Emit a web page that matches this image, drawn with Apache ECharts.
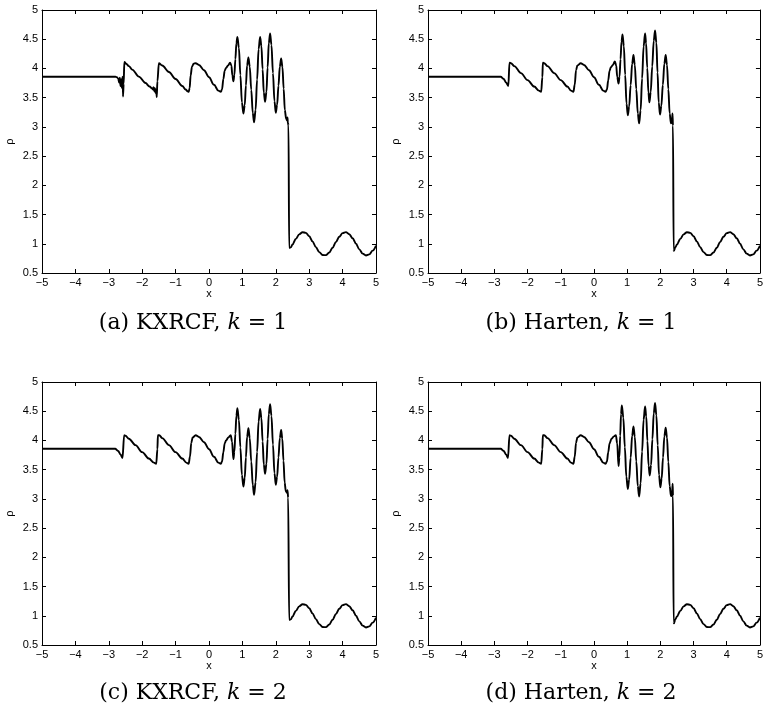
<!DOCTYPE html>
<html>
  <head>
    <meta charset="utf-8" />
    <title>Shu-Osher density</title>
    <style>
      html, body { margin: 0; padding: 0; background: #fff; }
    </style>
  </head>
  <body>
    <script src="https://cdn.jsdelivr.net/npm/echarts@6/dist/echarts.min.js"></script>

    <div id="container" style="width: 766px;height: 717px;"></div>

    <script type="text/javascript">
    // tick labels
    var xTicks = [-5, -4, -3, -2, -1, 0, 1, 2, 3, 4, 5];
    var yTicks = [0.5, 1, 1.5, 2, 2.5, 3, 3.5, 4, 4.5, 5];

    // panel captions
    var captions = [
      ['(a) KXRCF, ', '1'],
      ['(b) Harten, ', '1'],
      ['(c) KXRCF, ', '2'],
      ['(d) Harten, ', '2']
    ];

    // entropy wave behind the shock, same in all four panels
    var tailX = [2.45, 2.5, 2.6, 2.7, 2.8, 2.9, 3.0, 3.1, 3.2, 3.3, 3.4, 3.5, 3.6, 3.7, 3.8, 3.9,
      4.0, 4.1, 4.2, 4.3, 4.4, 4.5, 4.6, 4.7, 4.8, 4.9, 5.0];
    var tailRho = [0.938, 0.987, 1.084, 1.161, 1.198, 1.187, 1.130, 1.041, 0.942, 0.858, 0.808,
      0.805, 0.850, 0.931, 1.030, 1.120, 1.183, 1.199, 1.164, 1.094, 1.003, 0.905, 0.831, 0.800,
      0.819, 0.882, 0.968];

    // (a) KXRCF, k = 1
    var xA = [-5, -2.8, -2.76, -2.72, -2.69, -2.67, -2.65, -2.63, -2.61, -2.6, -2.585, -2.575, -2.555, -2.535,
      -2.48, -2.4, -2.3, -2.1, -1.9, -1.78, -1.71, -1.68, -1.66, -1.64, -1.62, -1.6, -1.58, -1.565, -1.545,
      -1.5, -1.4, -1.2, -1.0, -0.8, -0.7, -0.64, -0.61, -0.58, -0.55, -0.51, -0.46, -0.4, -0.3, -0.15,
      0, 0.15, 0.28, 0.355, 0.39, 0.43, 0.47, 0.51, 0.57, 0.63, 0.67, 0.7, 0.73,
      0.76, 0.79, 0.82, 0.85, 0.895, 0.94, 0.985, 1.03, 1.07, 1.105, 1.14, 1.18, 1.22, 1.265, 1.31, 1.35,
      1.395, 1.44, 1.485, 1.53, 1.57, 1.605, 1.64, 1.68, 1.72, 1.755, 1.79, 1.83, 1.87, 1.915, 1.96, 2.0,
      2.04, 2.08, 2.12, 2.16, 2.2, 2.235, 2.27, 2.31, 2.34, 2.35, 2.36, 2.38, 2.40, 2.41];
    var rhoA = [3.857, 3.857, 3.85, 3.83, 3.76, 3.84, 3.70, 3.81, 3.67, 3.80, 3.86, 3.52, 3.74, 4.11,
      4.08, 4.04, 3.98, 3.86, 3.75, 3.69, 3.66, 3.64, 3.68, 3.61, 3.66, 3.58, 3.64, 3.51, 3.78,
      4.09, 4.05, 3.94, 3.82, 3.70, 3.64, 3.61, 3.60, 3.66, 3.88, 4.03, 4.08, 4.09, 4.06, 3.97,
      3.85, 3.72, 3.62, 3.60, 3.64, 3.82, 3.96, 4.01, 4.05, 4.10, 4.05, 3.88, 3.78,
      3.89, 4.16, 4.43, 4.54, 4.35, 3.885, 3.42, 3.23, 3.37, 3.71, 4.05, 4.19, 4.03, 3.635, 3.24, 3.08,
      3.29, 3.81, 4.33, 4.54, 4.38, 3.985, 3.59, 3.43, 3.60, 4.015, 4.43, 4.60, 4.40, 3.92, 3.44, 3.24,
      3.38, 3.705, 4.03, 4.17, 4.02, 3.655, 3.29, 3.14, 3.11, 3.16, 3.07, 3.03, 0.93, 0.92];

    // (b) Harten, k = 1
    var xB = [-5, -2.81, -2.72, -2.65, -2.58, -2.545, -2.5, -2.4, -2.2, -2.0, -1.8, -1.66, -1.59, -1.555, -1.54,
      -1.5, -1.4, -1.2, -1.0, -0.8, -0.69, -0.62, -0.58, -0.54, -0.5, -0.4, -0.3, -0.15,
      0, 0.15, 0.28, 0.35, 0.39, 0.43, 0.47, 0.51, 0.57, 0.63, 0.67, 0.7, 0.74,
      0.77, 0.80, 0.83, 0.86, 0.90, 0.94, 0.98, 1.02, 1.06, 1.105, 1.15, 1.19, 1.23, 1.275, 1.32, 1.36,
      1.405, 1.45, 1.495, 1.54, 1.57, 1.605, 1.64, 1.67, 1.71, 1.755, 1.80, 1.84, 1.88, 1.915, 1.95, 1.99,
      2.03, 2.075, 2.12, 2.16, 2.2, 2.24, 2.28, 2.32, 2.35, 2.365, 2.38, 2.40, 2.41];
    var rhoB = [3.857, 3.857, 3.82, 3.76, 3.70, 4.10, 4.09, 4.04, 3.92, 3.80, 3.69, 3.62, 3.60, 3.85, 4.10,
      4.09, 4.04, 3.92, 3.80, 3.69, 3.62, 3.60, 3.72, 3.97, 4.05, 4.09, 4.06, 3.97,
      3.85, 3.72, 3.62, 3.60, 3.64, 3.80, 3.96, 4.02, 4.06, 4.12, 4.05, 3.86, 3.74,
      3.86, 4.16, 4.46, 4.58, 4.38, 3.89, 3.40, 3.20, 3.35, 3.715, 4.08, 4.23, 4.06, 3.645, 3.23, 3.06,
      3.285, 3.83, 4.375, 4.60, 4.43, 4.01, 3.59, 3.42, 3.60, 4.035, 4.47, 4.65, 4.44, 3.93, 3.42, 3.21,
      3.36, 3.72, 4.08, 4.23, 4.06, 3.645, 3.23, 3.06, 3.08, 3.23, 3.02, 0.90, 0.88];

    // (c) KXRCF, k = 2
    var xC = [-5, -2.81, -2.72, -2.65, -2.59, -2.54, -2.5, -2.4, -2.2, -2.0, -1.8, -1.65, -1.58, -1.545, -1.53,
      -1.49, -1.4, -1.2, -1.0, -0.8, -0.68, -0.61, -0.57, -0.53, -0.49, -0.4, -0.3, -0.15,
      0, 0.15, 0.28, 0.355, 0.39, 0.43, 0.47, 0.51, 0.58, 0.65, 0.69, 0.73,
      0.76, 0.79, 0.82, 0.85, 0.895, 0.94, 0.985, 1.03, 1.07, 1.105, 1.14, 1.18, 1.22, 1.265, 1.31, 1.35,
      1.395, 1.44, 1.485, 1.53, 1.57, 1.605, 1.64, 1.68, 1.72, 1.755, 1.79, 1.83, 1.87, 1.915, 1.96, 2.0,
      2.04, 2.08, 2.12, 2.16, 2.195, 2.23, 2.265, 2.30, 2.34, 2.35, 2.37, 2.40, 2.41];
    var rhoC = [3.857, 3.857, 3.82, 3.76, 3.70, 4.09, 4.08, 4.03, 3.92, 3.80, 3.69, 3.62, 3.60, 3.85, 4.09,
      4.09, 4.04, 3.92, 3.80, 3.69, 3.62, 3.60, 3.72, 3.96, 4.05, 4.09, 4.06, 3.97,
      3.85, 3.72, 3.62, 3.60, 3.64, 3.80, 3.95, 4.00, 4.05, 4.09, 3.98, 3.68,
      3.81, 4.115, 4.42, 4.55, 4.35, 3.88, 3.41, 3.21, 3.36, 3.71, 4.06, 4.21, 4.04, 3.64, 3.24, 3.07,
      3.285, 3.805, 4.325, 4.54, 4.38, 3.985, 3.59, 3.43, 3.60, 4.025, 4.45, 4.62, 4.42, 3.93, 3.44, 3.24,
      3.38, 3.71, 4.04, 4.18, 4.03, 3.655, 3.28, 3.13, 3.10, 3.15, 3.02, 0.93, 0.92];

    // (d) Harten, k = 2
    var xD = [-5, -2.81, -2.72, -2.65, -2.59, -2.545, -2.5, -2.4, -2.2, -2.0, -1.8, -1.66, -1.59, -1.555, -1.54,
      -1.5, -1.4, -1.2, -1.0, -0.8, -0.69, -0.62, -0.58, -0.54, -0.5, -0.4, -0.3, -0.15,
      0, 0.15, 0.28, 0.35, 0.39, 0.43, 0.47, 0.53, 0.6, 0.66, 0.7, 0.74,
      0.765, 0.79, 0.815, 0.84, 0.885, 0.93, 0.975, 1.02, 1.06, 1.105, 1.15, 1.19, 1.23, 1.275, 1.32, 1.36,
      1.405, 1.45, 1.495, 1.54, 1.575, 1.61, 1.645, 1.68, 1.72, 1.76, 1.80, 1.84, 1.88, 1.92, 1.96, 2.0,
      2.04, 2.08, 2.12, 2.16, 2.2, 2.24, 2.28, 2.32, 2.35, 2.37, 2.38, 2.40, 2.41];
    var rhoD = [3.857, 3.857, 3.82, 3.76, 3.70, 4.09, 4.08, 4.03, 3.92, 3.80, 3.69, 3.62, 3.60, 3.85, 4.09,
      4.09, 4.04, 3.92, 3.80, 3.69, 3.62, 3.60, 3.72, 3.96, 4.05, 4.09, 4.06, 3.97,
      3.85, 3.72, 3.62, 3.60, 3.64, 3.80, 3.95, 4.03, 4.07, 4.09, 3.95, 3.56,
      3.71, 4.08, 4.45, 4.60, 4.39, 3.885, 3.38, 3.17, 3.33, 3.705, 4.08, 4.24, 4.06, 3.64, 3.22, 3.04,
      3.265, 3.81, 4.355, 4.58, 4.41, 3.99, 3.57, 3.40, 3.58, 4.02, 4.46, 4.64, 4.43, 3.92, 3.41, 3.20,
      3.35, 3.71, 4.07, 4.22, 4.05, 3.635, 3.22, 3.05, 3.06, 3.26, 3.05, 0.89, 0.87];

    var panelX = [xA, xB, xC, xD];
    var panelRho = [rhoA, rhoB, rhoC, rhoD];

    // plot boxes in pixels: [left, top]
    var boxes = [[42, 10], [428, 10], [42, 382], [428, 382]];
    var boxW = 334, boxH = 263;

    var dom = document.getElementById('container');
    var myChart = echarts.init(dom);

    function minus(v) {
      return String(v).replace('-', '\u2212');
    }

    var grid = [], xAxis = [], yAxis = [], series = [], graphic = [];
    var tickStyle = { show: true, inside: true, length: 4, lineStyle: { color: '#000', width: 1 } };
    var lineAx = { show: true, onZero: false, lineStyle: { color: '#000', width: 1 } };
    var lab = { fontFamily: 'Liberation Sans', fontSize: 11, color: '#000' };

    for (var i = 0; i < 4; i++) {
      grid.push({ left: boxes[i][0], top: boxes[i][1], width: boxW, height: boxH, containLabel: false });
      xAxis.push({
        gridIndex: i, type: 'value', min: -5, max: 5, interval: 1,
        axisLine: lineAx, axisTick: tickStyle, splitLine: { show: false },
        axisLabel: { fontFamily: lab.fontFamily, fontSize: lab.fontSize, color: lab.color, margin: 4, formatter: minus },
        name: 'x', nameLocation: 'middle', nameGap: 12,
        nameTextStyle: { fontFamily: 'Liberation Sans', fontSize: 11, color: '#000' }
      });
      xAxis.push({
        gridIndex: i, type: 'value', min: -5, max: 5, interval: 1, position: 'top',
        axisLine: lineAx, axisTick: tickStyle, splitLine: { show: false }, axisLabel: { show: false }
      });
      yAxis.push({
        gridIndex: i, type: 'value', min: 0.5, max: 5, interval: 0.5,
        axisLine: lineAx, axisTick: tickStyle, splitLine: { show: false },
        axisLabel: { fontFamily: lab.fontFamily, fontSize: lab.fontSize, color: lab.color, margin: 4 },
        name: '\u03c1', nameLocation: 'middle', nameGap: 27, nameRotate: 90,
        nameTextStyle: { fontFamily: 'Liberation Sans', fontSize: 11, color: '#000' }
      });
      yAxis.push({
        gridIndex: i, type: 'value', min: 0.5, max: 5, interval: 0.5, position: 'right',
        axisLine: lineAx, axisTick: tickStyle, splitLine: { show: false }, axisLabel: { show: false }
      });

      var pts = [];
      for (var j = 0; j < panelX[i].length; j++) pts.push([panelX[i][j], panelRho[i][j]]);
      for (var j = 0; j < tailX.length; j++) pts.push([tailX[j], tailRho[j]]);

      series.push({
        type: 'line', xAxisIndex: 2 * i, yAxisIndex: 2 * i,
        data: pts, showSymbol: false, smooth: 0.35, smoothMonotone: 'x',
        lineStyle: { color: '#000', width: 1.9 }, silent: true, animation: false
      });

      graphic.push({
        type: 'text',
        x: i % 2 === 0 ? 193 : 581,
        y: i < 2 ? 323 : 693,
        style: {
          text: captions[i][0] + '{i|k} = ' + captions[i][1],
          font: '22px "DejaVu Serif"',
          fill: '#000',
          align: 'center',
          verticalAlign: 'middle',
          rich: { i: { fontFamily: 'DejaVu Serif', fontStyle: 'italic', fontSize: 22 } }
        }
      });
    }

    var option = {
      backgroundColor: '#fff',
      animation: false,
      grid: grid,
      xAxis: xAxis,
      yAxis: yAxis,
      series: series,
      graphic: graphic
    };
    myChart.setOption(option);

    window.addEventListener('resize', myChart.resize);
    </script>
  </body>
</html>
